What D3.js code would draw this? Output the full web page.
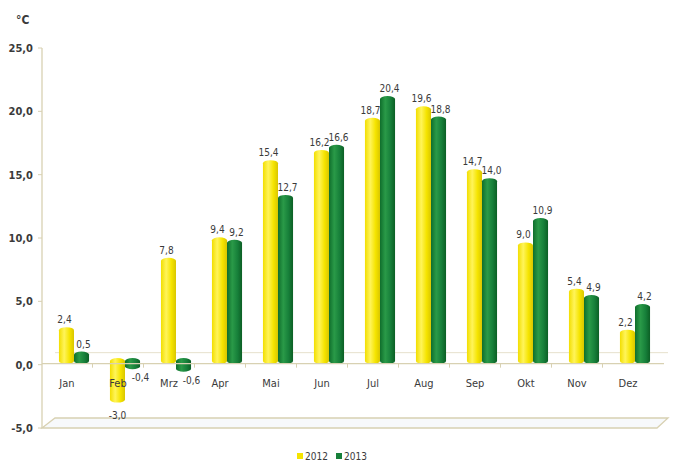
<!DOCTYPE html>
<html>
<head>
<meta charset="utf-8">
<script src="https://cdn.jsdelivr.net/npm/d3@7"></script>
<style>
  body { margin: 0; background: #fff; }
  text { font-family: "DejaVu Sans Condensed", "Liberation Sans Narrow", "Liberation Sans", sans-serif; fill: #3a3a3a; }
</style>
</head>
<body>
<svg width="677" height="463"></svg>
<script>
// monthly mean temperature, 2012 vs 2013
var months = ["Jan", "Feb", "Mrz", "Apr", "Mai", "Jun", "Jul", "Aug", "Sep", "Okt", "Nov", "Dez"];
var series = ["2012", "2013"];
var t2012 = [2.4, -3.0, 7.8, 9.4, 15.4, 16.2, 18.7, 19.6, 14.7, 9.0, 5.4, 2.2];
var t2013 = [0.5, -0.4, -0.6, 9.2, 12.7, 16.6, 20.4, 18.8, 14.0, 10.9, 4.9, 4.2];
var yTicks = [-5, 0, 5, 10, 15, 20, 25];

var svg = d3.select("svg");
var fmt = function (v) { return d3.format(".1f")(v).replace(".", ",").replace("−", "-"); };

// front axis scale and back-plane scale (bars sit a bit deeper)
var y = d3.scaleLinear().domain([-5, 25]).range([428, 48]);
var yb = d3.scaleLinear().domain([0, 20.4]).range([361, 99]);

var x = d3.scaleBand().domain(months).range([48.5, 660.5])
    .paddingInner(0.41).paddingOuter(0.205);
var xs = d3.scaleBand().domain(series).range([0, x.bandwidth()]);
var depth = 7;

var defs = svg.append("defs");
function grad(id, stops) {
    var g = defs.append("linearGradient").attr("id", id)
        .attr("x1", "0%").attr("x2", "100%").attr("y1", "0%").attr("y2", "0%");
    stops.forEach(function (s) {
        g.append("stop").attr("offset", s[0]).attr("stop-color", s[1]);
    });
}
grad("gY", [["0%", "#f2de00"], ["35%", "#fff45a"], ["70%", "#f5e400"], ["100%", "#d9c600"]]);
grad("gG", [["0%", "#0f6e2c"], ["35%", "#2a9a48"], ["70%", "#17803a"], ["100%", "#0c5f25"]]);
var fills = { "2012": "url(#gY)", "2013": "url(#gG)" };
var legendCol = { "2012": "#f5e400", "2013": "#17803a" };

var lineCol = "#d8d1b2";

// floor at -5
svg.append("path")
    .attr("d", "M42," + y(-5) + "L55," + (y(-5) - 10) + "L668," + (y(-5) - 10) + "L657," + y(-5) + "Z")
    .attr("fill", "#f7f9fb").attr("stroke", lineCol).attr("stroke-width", 1.3);

// back zero line
svg.append("line").attr("x1", 55).attr("x2", 668)
    .attr("y1", y(0) - 12).attr("y2", y(0) - 12)
    .attr("stroke", "#e6e1cc").attr("stroke-width", 1);

// y axis
svg.append("line").attr("x1", 42).attr("x2", 42).attr("y1", y(25)).attr("y2", y(-5))
    .attr("stroke", lineCol).attr("stroke-width", 1.3);
var yt = svg.append("g").selectAll("g").data(yTicks).enter().append("g");
yt.append("line").attr("x1", 38).attr("x2", 42)
    .attr("y1", d => y(d)).attr("y2", d => y(d)).attr("stroke", lineCol);
yt.append("text").attr("x", 33).attr("y", d => y(d) + 4)
    .attr("text-anchor", "end").attr("font-size", 11).attr("font-weight", "bold")
    .text(d => fmt(d));

svg.append("text").attr("x", 16).attr("y", 24).attr("font-size", 12).attr("font-weight", "bold")
    .attr("fill", "#222").text("°C");

// bars (cylinders)
var data = months.map(function (m, i) {
    return { m: m, vals: [{ s: "2012", v: t2012[i] }, { s: "2013", v: t2013[i] }] };
});
var ry = 3;
function cyl(x0, w, ytop, ybot) {
    var r = w / 2;
    return "M" + x0 + "," + ytop +
        "A" + r + "," + ry + " 0 0 1 " + (x0 + w) + "," + ytop +
        "L" + (x0 + w) + "," + ybot +
        "A" + r + "," + ry + " 0 0 1 " + x0 + "," + ybot + "Z";
}
var grp = svg.append("g").selectAll("g").data(data).enter().append("g")
    .attr("transform", d => "translate(" + x(d.m) + ",0)");
grp.selectAll("path").data(d => d.vals).enter().append("path")
    .attr("d", function (d) {
        var a = yb(Math.max(d.v, 0)), b = yb(Math.min(d.v, 0));
        return cyl(xs(d.s), xs.bandwidth(), a, b);
    })
    .attr("fill", d => fills[d.s]);

// front zero line with category ticks
svg.append("line").attr("x1", 42).attr("x2", 664).attr("y1", y(0) - 1).attr("y2", y(0) - 1)
    .attr("stroke", lineCol).attr("stroke-width", 1.3);
svg.append("g").selectAll("line").data(months.slice(1)).enter().append("line")
    .attr("x1", d => x(d) - (x.step() - x.bandwidth()) / 2 - depth)
    .attr("x2", d => x(d) - (x.step() - x.bandwidth()) / 2 - depth)
    .attr("y1", y(0) - 1).attr("y2", y(0) + 3).attr("stroke", lineCol);

// category labels
svg.append("g").selectAll("text").data(months).enter().append("text")
    .attr("x", d => x(d) + x.bandwidth() / 2 - depth)
    .attr("y", y(0) + 22).attr("text-anchor", "middle").attr("font-size", 11)
    .text(d => d);

// value labels
grp.selectAll("text").data(d => d.vals).enter().append("text")
    .attr("x", function (d) {
        var c = xs(d.s) + xs.bandwidth() / 2;
        if (d.v < 0) return d.s === "2013" ? c + 8 : c;
        return d.s === "2013" ? c + 2 : c - 2;
    })
    .attr("y", d => d.v < 0 ? yb(d.v) + (d.s === "2013" ? 15 : 19) : yb(d.v) - 7)
    .attr("text-anchor", "middle").attr("font-size", 10)
    .text(d => fmt(d.v));

// legend
var lg = svg.append("g").selectAll("g").data(series).enter().append("g")
    .attr("transform", (d, i) => "translate(" + (297 + i * 39) + ",452)");
lg.append("rect").attr("width", 6).attr("height", 6).attr("y", 1).attr("fill", d => legendCol[d]);
lg.append("text").attr("x", 8).attr("y", 8).attr("font-size", 10).text(d => d);
</script>
</body>
</html>
